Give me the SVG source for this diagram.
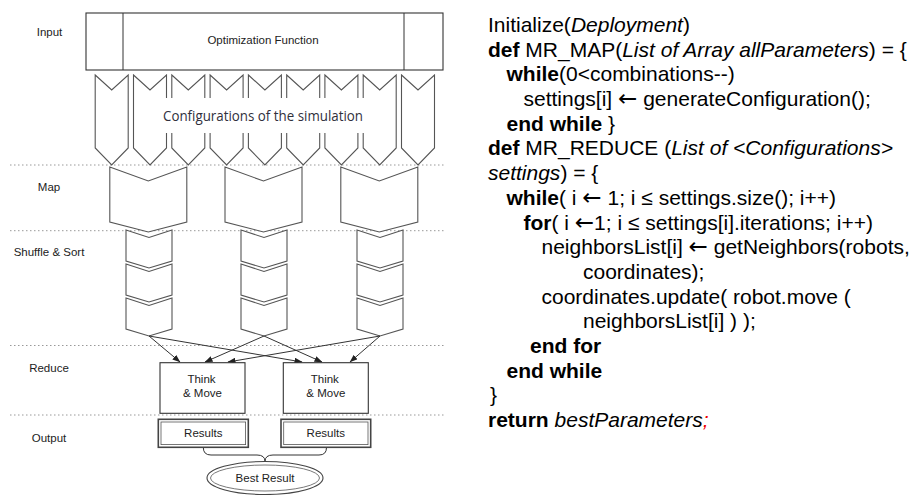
<svg xmlns="http://www.w3.org/2000/svg" width="920" height="495" viewBox="0 0 920 495">
<defs>
<marker id="ah" markerWidth="8" markerHeight="6" refX="7.5" refY="3" orient="auto" markerUnits="userSpaceOnUse"><path d="M0,0 L8,3 L0,6 z" fill="#222"/></marker>
<style>
.lbl{font-family:"Liberation Sans",Arial,sans-serif;font-size:11.5px;fill:#222;text-anchor:middle}
.code{font-family:"Liberation Sans",Arial,sans-serif;font-size:21px;fill:#000}
.b{font-weight:bold}
.i{font-style:italic}
.arr{font-family:"DejaVu Sans",sans-serif;font-size:23px;font-weight:normal;font-style:normal}
.sep{stroke:#999;stroke-width:1;stroke-dasharray:1.5 2.5;fill:none}
.chev{fill:#fff;stroke:#555;stroke-width:1.1}
.box{fill:#fff;stroke:#333;stroke-width:1.1}
.conn{stroke:#333;stroke-width:1;fill:none}
.dbl-o{fill:#fff;stroke:#444;stroke-width:1.6}
.dbl-i{fill:none;stroke:#555;stroke-width:0.8}
</style>
</defs>
<rect x="0" y="0" width="920" height="495" fill="#fff"/>

<g id="separators">
<line class="sep" x1="10" y1="165" x2="446" y2="165"/>
<line class="sep" x1="10" y1="230.7" x2="446" y2="230.7"/>
<line class="sep" x1="10" y1="345.5" x2="446" y2="345.5"/>
<line class="sep" x1="10" y1="415" x2="446" y2="415"/>
</g>

<g id="row-labels">
<text class="lbl" x="49.5" y="36">Input</text>
<text class="lbl" x="49" y="191">Map</text>
<text class="lbl" x="49" y="256.3">Shuffle &amp; Sort</text>
<text class="lbl" x="49" y="372.3">Reduce</text>
<text class="lbl" x="49" y="441.7">Output</text>
</g>

<g id="optimization-function">
<rect class="box" x="86" y="13" width="357" height="57"/>
<line class="conn" x1="123" y1="13" x2="123" y2="70"/>
<line class="conn" x1="404" y1="13" x2="404" y2="70"/>
<text class="lbl" x="263" y="44">Optimization Function</text>
</g>

<g id="configurations">
<polygon class="chev" points="95.2,75 111.7,90 128.2,75 128.2,148 111.7,165 95.2,148"/>
<polygon class="chev" points="133.5,75 150,90 166.5,75 166.5,148 150,165 133.5,148"/>
<polygon class="chev" points="171.8,75 188.3,90 204.8,75 204.8,148 188.3,165 171.8,148"/>
<polygon class="chev" points="210.1,75 226.6,90 243.1,75 243.1,148 226.6,165 210.1,148"/>
<polygon class="chev" points="248.4,75 264.9,90 281.4,75 281.4,148 264.9,165 248.4,148"/>
<polygon class="chev" points="286.7,75 303.2,90 319.7,75 319.7,148 303.2,165 286.7,148"/>
<polygon class="chev" points="324.9,75 341.4,90 357.9,75 357.9,148 341.4,165 324.9,148"/>
<polygon class="chev" points="363.2,75 379.7,90 396.2,75 396.2,148 379.7,165 363.2,148"/>
<polygon class="chev" points="401.5,75 418,90 434.5,75 434.5,148 418,165 401.5,148"/>
<rect x="140" y="98" width="252" height="35" fill="#fff"/>
<text x="263" y="121" font-family="'Open Sans','Noto Sans',sans-serif" font-size="14" fill="#30303c" text-anchor="middle" textLength="200" lengthAdjust="spacingAndGlyphs">Configurations of the simulation</text>
</g>

<g id="map-1"><polygon class="chev" points="109.8,167 148.3,181 186.8,167 186.8,222 148.3,232 109.8,222"/></g>
<g id="map-2"><polygon class="chev" points="225,167 263.5,181 302,167 302,222 263.5,232 225,222"/></g>
<g id="map-3"><polygon class="chev" points="340.8,167 379.3,181 417.8,167 417.8,222 379.3,232 340.8,222"/></g>

<g id="shuffle-1">
<polygon class="chev" points="126,230 149,237.5 172,230 172,261 149,268 126,261"/>
<polygon class="chev" points="126,264 149,271.5 172,264 172,295 149,302 126,295"/>
<polygon class="chev" points="126,298 149,305.5 172,298 172,329 149,336 126,329"/>
</g>
<g id="shuffle-2">
<polygon class="chev" points="241,230 264,237.5 287,230 287,261 264,268 241,261"/>
<polygon class="chev" points="241,264 264,271.5 287,264 287,295 264,302 241,295"/>
<polygon class="chev" points="241,298 264,305.5 287,298 287,329 264,336 241,329"/>
</g>
<g id="shuffle-3">
<polygon class="chev" points="357,230 380,237.5 403,230 403,261 380,268 357,261"/>
<polygon class="chev" points="357,264 380,271.5 403,264 403,295 380,302 357,295"/>
<polygon class="chev" points="357,298 380,305.5 403,298 403,329 380,336 357,329"/>
</g>

<g id="connectors">
<line class="conn" x1="149" y1="336" x2="180" y2="362" marker-end="url(#ah)"/>
<line class="conn" x1="149" y1="336" x2="302" y2="362" marker-end="url(#ah)"/>
<line class="conn" x1="264" y1="336" x2="205" y2="362" marker-end="url(#ah)"/>
<line class="conn" x1="264" y1="336" x2="322" y2="362" marker-end="url(#ah)"/>
<line class="conn" x1="380" y1="336" x2="228" y2="362" marker-end="url(#ah)"/>
<line class="conn" x1="380" y1="336" x2="350" y2="362" marker-end="url(#ah)"/>
<path class="conn" d="M203.3,447.5 Q203.3,455 211,455 H257 Q265,455 265,461.5 Q265,455 273,455 H319 Q326.5,455 326.5,447.5"/>
</g>

<g id="think-move-1">
<rect class="box" x="160" y="362.7" width="85" height="50.6"/>
<text class="lbl" x="201.5" y="383">Think</text>
<text class="lbl" x="202.5" y="397">&amp; Move</text>
</g>
<g id="think-move-2">
<rect class="box" x="283.3" y="362.7" width="85" height="50.6"/>
<text class="lbl" x="324.8" y="383">Think</text>
<text class="lbl" x="325.8" y="397">&amp; Move</text>
</g>

<g id="results-1">
<rect class="dbl-o" x="158.3" y="419.3" width="90" height="28"/>
<rect class="dbl-i" x="161" y="422" width="84.6" height="22.6"/>
<text class="lbl" x="203.3" y="436.5">Results</text>
</g>
<g id="results-2">
<rect class="dbl-o" x="281" y="419.3" width="89.7" height="28"/>
<rect class="dbl-i" x="283.7" y="422" width="84.3" height="22.6"/>
<text class="lbl" x="325.8" y="436.5">Results</text>
</g>

<g id="best-result">
<ellipse cx="265" cy="478" rx="58" ry="16.5" fill="#fff" stroke="#444" stroke-width="1.1"/>
<ellipse cx="265" cy="478" rx="54.5" ry="13" fill="none" stroke="#555" stroke-width="0.8"/>
<text class="lbl" x="265" y="482.3">Best Result</text>
</g>

<g id="pseudocode" class="code">
<text x="488" y="32">Initialize(<tspan class="i">Deployment</tspan>)</text>
<text x="488" y="56.7"><tspan class="b">def</tspan> MR_MAP(<tspan class="i">List of Array allParameters</tspan>) = {</text>
<text x="506.5" y="81.4"><tspan class="b">while</tspan>(0&lt;combinations--)</text>
<text x="523.5" y="106.1">settings[i] <tspan class="arr">←</tspan> generateConfiguration();</text>
<text x="506.5" y="130.8"><tspan class="b">end while</tspan> }</text>
<text x="488" y="155.4"><tspan class="b">def</tspan> MR_REDUCE (<tspan class="i">List of &lt;Configurations&gt;</tspan></text>
<text x="488" y="180.1"><tspan class="i">settings</tspan>) = {</text>
<text x="506.5" y="204.8"><tspan class="b">while</tspan>( i <tspan class="arr">←</tspan> 1; i ≤ settings.size(); i++)</text>
<text x="523.5" y="229.5"><tspan class="b">for</tspan>( i <tspan class="arr">←</tspan>1; i ≤ settings[i].iterations; i++)</text>
<text x="541.5" y="254.2">neighborsList[i] <tspan class="arr">←</tspan> getNeighbors(robots,</text>
<text x="583" y="278.9">coordinates);</text>
<text x="541.5" y="303.6">coordinates.update( robot.move (</text>
<text x="583" y="328.3">neighborsList[i] ) );</text>
<text x="530" y="352.9" class="b">end for</text>
<text x="506.5" y="377.6" class="b">end while</text>
<text x="490" y="402.3">}</text>
<text x="488" y="427"><tspan class="b">return</tspan> <tspan class="i">bestParameters</tspan><tspan class="i" fill="#e00">;</tspan></text>
</g>
</svg>
